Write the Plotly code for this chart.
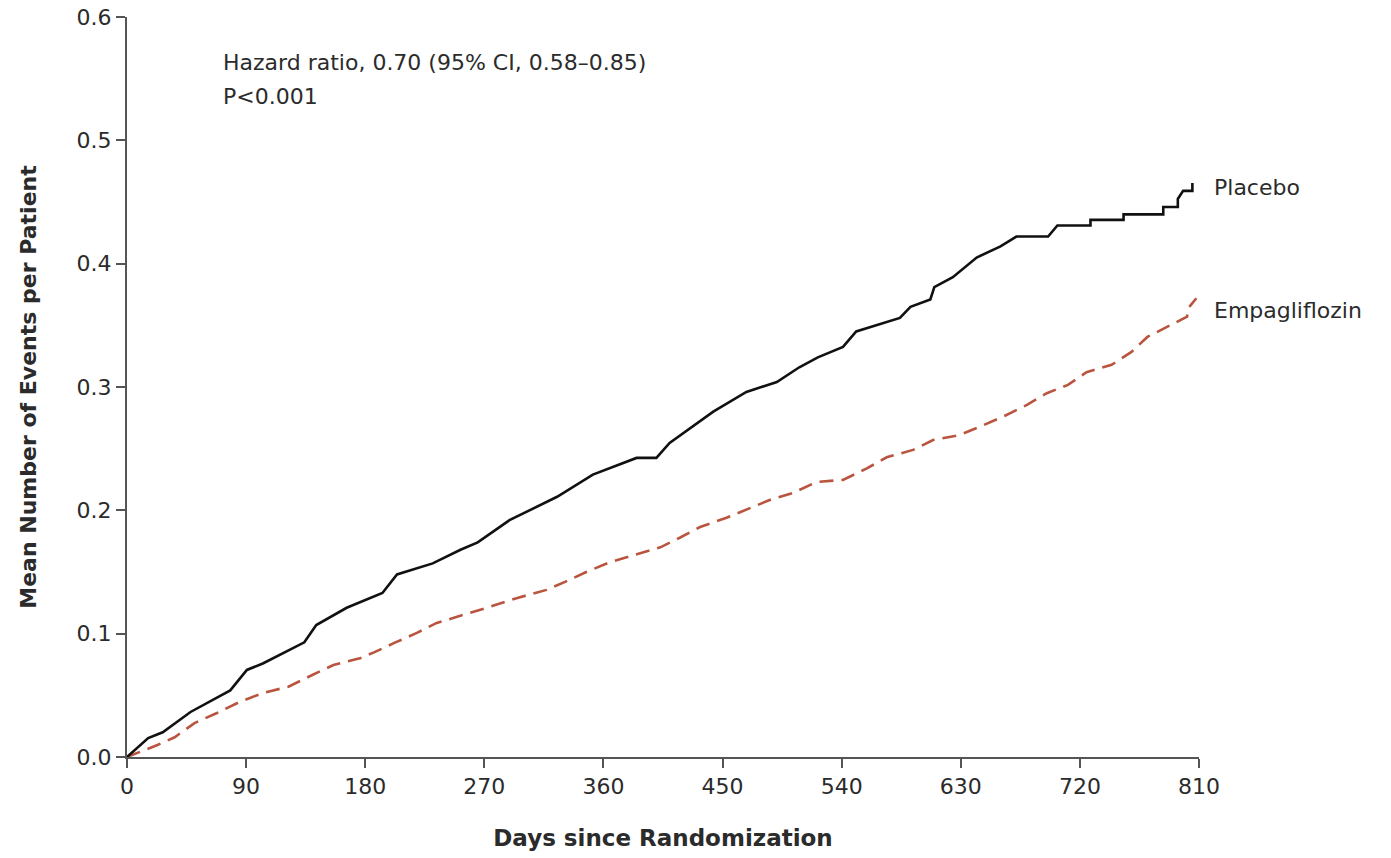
import plotly.graph_objects as go

# Placebo (black solid) - days, mean events per patient
placebo_days = [0, 16, 27, 48, 78, 90.6, 103, 118, 134, 143, 166, 193, 204, 231, 252, 265,
                289, 325, 352, 385, 400, 410, 443, 468, 491, 508, 522, 541, 551, 584, 592,
                607, 610, 624, 642, 660, 672, 696, 703, 728, 728, 753, 753, 783, 783, 794,
                794, 798, 805, 805]
placebo_vals = [0, 0.0154, 0.020, 0.0365, 0.054, 0.0706, 0.076, 0.084, 0.093, 0.107, 0.121,
                0.133, 0.148, 0.157, 0.168, 0.174, 0.192, 0.211, 0.229, 0.2425, 0.2425,
                0.2546, 0.280, 0.296, 0.304, 0.316, 0.324, 0.3325, 0.345, 0.356, 0.365,
                0.371, 0.381, 0.389, 0.405, 0.414, 0.422, 0.422, 0.431, 0.431, 0.4355,
                0.4355, 0.440, 0.440, 0.446, 0.446, 0.4525, 0.459, 0.459, 0.4655]

# Empagliflozin (red dashed)
empa_days = [0, 23, 36, 51, 68, 85, 103, 122, 140, 156, 176, 187, 202, 219, 234, 254, 272,
             295, 317, 331, 347, 365, 385, 403, 418, 433, 453, 471, 486, 503, 521, 541, 559,
             574, 594, 609, 629, 647, 663, 680, 695, 711, 725, 744, 759, 771, 786, 801, 802,
             808]
empa_vals = [0, 0.0097, 0.016, 0.0275, 0.0357, 0.0446, 0.052, 0.057, 0.0665, 0.0746, 0.080,
             0.085, 0.0925, 0.1006, 0.1087, 0.115, 0.121, 0.129, 0.1355, 0.142, 0.150, 0.158,
             0.164, 0.170, 0.178, 0.1865, 0.194, 0.202, 0.2085, 0.214, 0.223, 0.2247, 0.234,
             0.243, 0.249, 0.257, 0.261, 0.269, 0.2765, 0.2855, 0.295, 0.3017, 0.312, 0.318,
             0.3285, 0.3406, 0.349, 0.357, 0.364, 0.372]

x_ticks = [0, 90, 180, 270, 360, 450, 540, 630, 720, 810]
y_ticks = [0.0, 0.1, 0.2, 0.3, 0.4, 0.5, 0.6]
y_tick_text = ["0.0", "0.1", "0.2", "0.3", "0.4", "0.5", "0.6"]

FONT = "DejaVu Sans"
AXIS_COLOR = "#555555"
TEXT_COLOR = "#2b2b2b"

fig = go.Figure()
fig.add_trace(go.Scatter(x=empa_days, y=empa_vals, mode="lines", name="Empagliflozin",
                         line=dict(color="#B9553F", width=2.6, dash="14px,8px"),
                         showlegend=False))
fig.add_trace(go.Scatter(x=placebo_days, y=placebo_vals, mode="lines", name="Placebo",
                         line=dict(color="#111111", width=2.6), showlegend=False))

fig.update_layout(
    width=1391, height=858,
    margin=dict(l=127, r=192, t=17, b=101, autoexpand=False),
    paper_bgcolor="white", plot_bgcolor="white",
    font=dict(family=FONT, color=TEXT_COLOR, size=22),
    xaxis=dict(range=[0, 810], tickvals=x_ticks, ticktext=[str(v) for v in x_ticks],
               automargin=False,
               showgrid=False, zeroline=False, showline=True, linecolor=AXIS_COLOR,
               linewidth=2, ticks="outside", ticklen=9, tickwidth=2, tickcolor=AXIS_COLOR,
               tickfont=dict(size=22, family=FONT, color=TEXT_COLOR),
               title=dict(text="<b>Days since Randomization</b>", standoff=31,
                          font=dict(size=23, family=FONT, color=TEXT_COLOR))),
    yaxis=dict(range=[0, 0.6], tickvals=y_ticks, ticktext=y_tick_text,
               automargin=False,
               showgrid=False, zeroline=False, showline=True, linecolor=AXIS_COLOR,
               linewidth=2, ticks="outside", ticklen=9, tickwidth=2, tickcolor=AXIS_COLOR,
               tickfont=dict(size=22, family=FONT, color=TEXT_COLOR),
               title=dict(text="<b>Mean Number of Events per Patient</b>", standoff=34,
                          font=dict(size=22, family=FONT, color=TEXT_COLOR))),
)

fig.add_annotation(xref="paper", yref="paper", x=0.0877, y=0.958, xanchor="left", yanchor="top",
                   text="Hazard ratio, 0.70 (95% CI, 0.58–0.85)", showarrow=False,
                   align="left", font=dict(size=22, family=FONT, color=TEXT_COLOR))
fig.add_annotation(xref="paper", yref="paper", x=0.0877, y=0.9115, xanchor="left", yanchor="top",
                   text="P<0.001", showarrow=False,
                   align="left", font=dict(size=22, family=FONT, color=TEXT_COLOR))
fig.add_annotation(xref="paper", yref="y", x=1.012, y=0.462, xanchor="left", yanchor="middle",
                   text="Placebo", showarrow=False,
                   font=dict(size=22, family=FONT, color=TEXT_COLOR))
fig.add_annotation(xref="paper", yref="y", x=1.012, y=0.362, xanchor="left", yanchor="middle",
                   text="Empagliflozin", showarrow=False,
                   font=dict(size=22, family=FONT, color=TEXT_COLOR))

fig.write_html("out.html")
